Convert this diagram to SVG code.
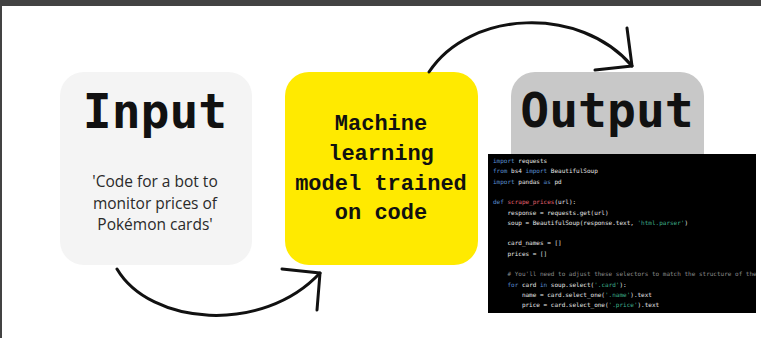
<svg xmlns="http://www.w3.org/2000/svg" width="761" height="338" viewBox="0 0 761 338">
<style>
.title{font-family:"DejaVu Sans Mono",monospace;font-weight:bold;font-size:48px;fill:#111;text-anchor:middle}
.sub{font-family:"Open Sans","Noto Sans",sans-serif;font-size:15.5px;fill:#2a2a2a;text-anchor:middle}
.model{font-family:"Liberation Mono",monospace;font-weight:bold;font-size:22px;fill:#111;text-anchor:middle}
.code{font-family:"DejaVu Sans Mono",monospace;font-size:6px;fill:#e6e6e6;white-space:pre}
.kw{fill:#5a8fd0}.fn{fill:#e0606e}.str{fill:#3fae8c}.cm{fill:#8c8c8c}
.conn{fill:none;stroke:#111;stroke-width:3;stroke-linecap:round;stroke-linejoin:round}
</style>
<defs>
<clipPath id="codeclip"><rect x="488" y="154" width="268" height="159"/></clipPath>
</defs>
<rect x="0" y="0" width="761" height="338" fill="#ffffff"/>
<rect x="0" y="0" width="761" height="6" fill="#434343"/>
<rect x="0" y="0" width="2" height="338" fill="#434343"/>

<g id="node-input">
<rect x="60" y="72" width="192" height="193" rx="24" fill="#f4f4f4"/>
<text class="title" x="155" y="128">Input</text>
<text class="sub" x="155" y="187">'Code for a bot to</text>
<text class="sub" x="155" y="208.5">monitor prices of</text>
<text class="sub" x="155" y="230">Pokémon cards'</text>
</g>

<g id="node-model">
<rect x="285" y="72" width="193" height="193" rx="24" fill="#ffea00"/>
<text class="model" x="381" y="130">Machine</text>
<text class="model" x="381" y="160">learning</text>
<text class="model" x="381" y="190">model trained</text>
<text class="model" x="381" y="219">on code</text>
</g>

<g id="node-output">
<rect x="511" y="72" width="193" height="193" rx="24" fill="#c8c8c8"/>
<text class="title" x="607" y="127">Output</text>
</g>

<g id="node-code">
<rect x="488" y="154" width="268" height="159" fill="#000000"/>
<g clip-path="url(#codeclip)">
<text class="code" x="493" y="163"><tspan class="kw">import</tspan> requests</text>
<text class="code" x="493" y="173.3"><tspan class="kw">from</tspan> bs4 <tspan class="kw">import</tspan> BeautifulSoup</text>
<text class="code" x="493" y="183.6"><tspan class="kw">import</tspan> pandas <tspan class="kw">as</tspan> pd</text>
<text class="code" x="493" y="204.2"><tspan class="kw">def</tspan> <tspan class="fn">scrape_prices</tspan>(url):</text>
<text class="code" x="493" y="214.5">    response = requests.get(url)</text>
<text class="code" x="493" y="224.8">    soup = BeautifulSoup(response.text, <tspan class="str">'html.parser'</tspan>)</text>
<text class="code" x="493" y="245.4">    card_names = []</text>
<text class="code" x="493" y="255.7">    prices = []</text>
<text class="code" x="493" y="276.3">    <tspan class="cm"># You'll need to adjust these selectors to match the structure of the</tspan></text>
<text class="code" x="493" y="286.6">    <tspan class="kw">for</tspan> card <tspan class="kw">in</tspan> soup.select(<tspan class="str">'.card'</tspan>):</text>
<text class="code" x="493" y="296.9">        name = card.select_one(<tspan class="str">'.name'</tspan>).text</text>
<text class="code" x="493" y="307.2">        price = card.select_one(<tspan class="str">'.price'</tspan>).text</text>
</g>
</g>

<g id="connectors">
<path class="conn" d="M117,269 C150,325 262,335 320,273"/>
<path class="conn" d="M282,269 L320,273 L317,310"/>
<path class="conn" d="M429,72 C470,10 580,5 632,66"/>
<path class="conn" d="M627,28 L632,66 L595,70"/>
</g>
</svg>
